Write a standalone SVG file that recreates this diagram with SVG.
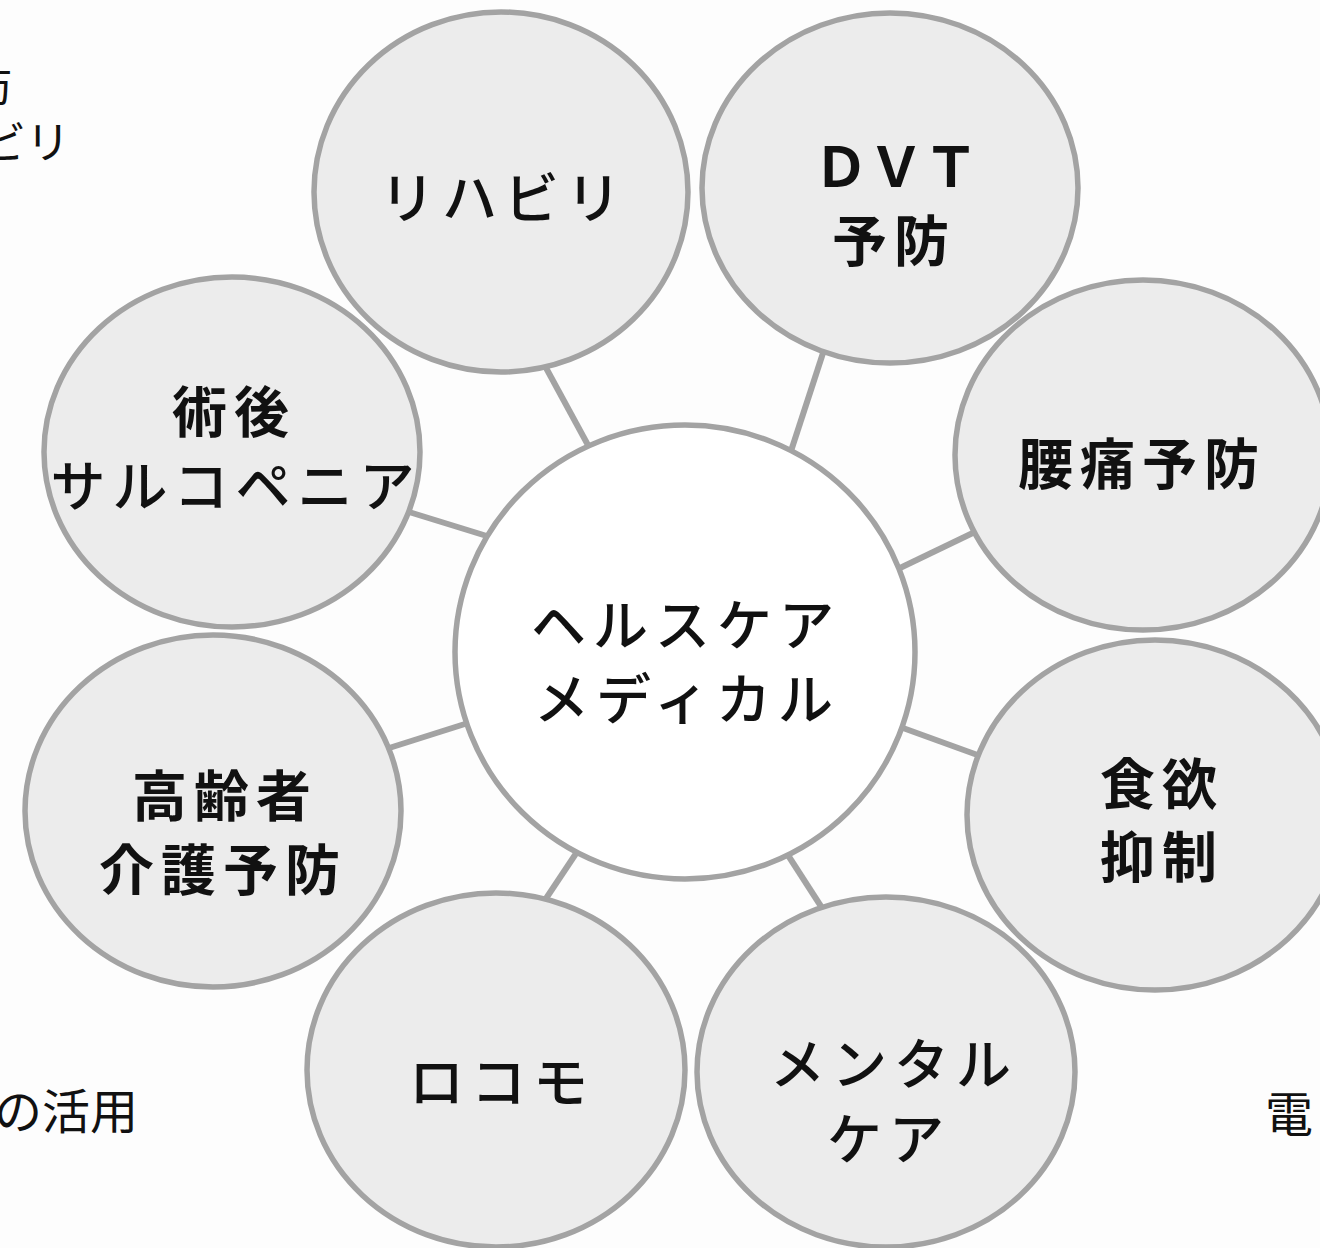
<svg xmlns="http://www.w3.org/2000/svg" width="1320" height="1248" viewBox="0 0 1320 1248">
<style>
.bg{fill:#fdfdfd}
.outer{fill:#ececec;stroke:#a3a3a3;stroke-width:5.5}
.hub{fill:#ffffff;stroke:#a3a3a3;stroke-width:5.5}
.conn line{stroke:#a3a3a3;stroke-width:6;stroke-linecap:butt}
.k{font-family:"Noto Sans CJK JP","Noto Sans CJK SC",sans-serif;font-size:55px;font-weight:700;letter-spacing:7px;fill:#111;text-anchor:middle;dominant-baseline:central}
.kt{font-family:"Noto Sans CJK JP","Noto Sans CJK SC",sans-serif;font-size:55px;font-weight:500;letter-spacing:7px;fill:#111;text-anchor:middle;dominant-baseline:central}
.bgt{font-family:"Noto Sans CJK JP","Noto Sans CJK SC",sans-serif;font-size:44px;font-weight:400;fill:#111;dominant-baseline:central}
</style>
<rect class="bg" x="0" y="0" width="1320" height="1248"/>
<g id="background-text">
<text class="bgt" x="-32" y="82">防</text>
<text class="bgt" x="-18" y="140">ビリ</text>
<text class="bgt" x="-6" y="1108" style="font-size:48px">の活用</text>
<text class="bgt" x="1265" y="1111" style="font-size:48px">電</text>
</g>
<g id="connectors" class="conn">
<line x1="545" y1="366" x2="595" y2="458"/>
<line x1="824" y1="350" x2="791" y2="451"/>
<line x1="979" y1="530" x2="900" y2="568"/>
<line x1="983" y1="757" x2="903" y2="728"/>
<line x1="824" y1="911" x2="784" y2="849"/>
<line x1="543" y1="903" x2="579" y2="849"/>
<line x1="386" y1="749" x2="468" y2="723"/>
<line x1="409" y1="512" x2="490" y2="537"/>
</g>
<g id="node-rihabiri">
<ellipse class="outer" cx="501" cy="192" rx="187" ry="180"/>
<text class="kt" x="504" y="194">リハビリ</text>
</g>
<g id="node-dvt">
<ellipse class="outer" cx="890" cy="188" rx="188" ry="175"/>
<text class="k" x="896" y="163" style="letter-spacing:0">ＤＶＴ</text>
<text class="k" x="894" y="237">予防</text>
</g>
<g id="node-youtsuu">
<ellipse class="outer" cx="1143" cy="455" rx="188" ry="175"/>
<text class="k" x="1142" y="460">腰痛予防</text>
</g>
<g id="node-shokuyoku">
<ellipse class="outer" cx="1155" cy="815" rx="188" ry="175"/>
<text class="k" x="1162" y="780">食欲</text>
<text class="k" x="1162" y="853">抑制</text>
</g>
<g id="node-mental">
<ellipse class="outer" cx="886" cy="1072" rx="189" ry="175"/>
<text class="kt" x="894" y="1060">メンタル</text>
<text class="kt" x="889" y="1135">ケア</text>
</g>
<g id="node-rokomo">
<ellipse class="outer" cx="496" cy="1070" rx="189" ry="177"/>
<text class="kt" x="502" y="1078">ロコモ</text>
</g>
<g id="node-koureisha">
<ellipse class="outer" cx="213" cy="811" rx="188" ry="176"/>
<text class="k" x="225" y="792">高齢者</text>
<text class="k" x="223" y="866">介護予防</text>
</g>
<g id="node-jutsugo">
<ellipse class="outer" cx="232" cy="452" rx="188" ry="175"/>
<text class="k" x="234" y="408">術後</text>
<text class="kt" x="236" y="482">サルコペニア</text>
</g>
<g id="node-center">
<ellipse class="hub" cx="685" cy="652" rx="230" ry="227"/>
<text class="kt" x="686" y="621">ヘルスケア</text>
<text class="kt" x="687" y="695">メディカル</text>
</g>
</svg>
